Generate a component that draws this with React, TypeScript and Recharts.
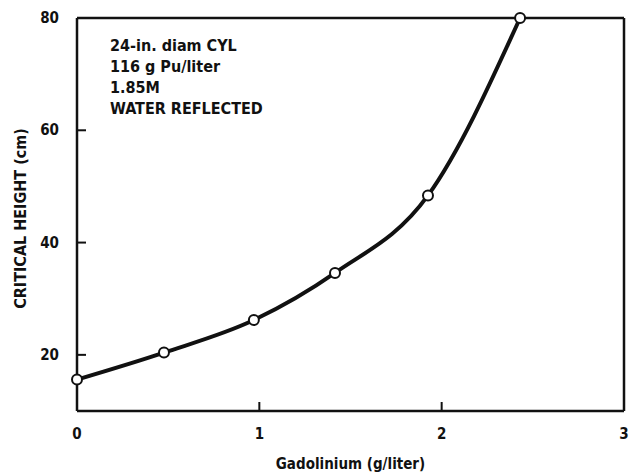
import React from "react";
import {
  LineChart,
  Line,
  XAxis,
  YAxis,
  ReferenceLine,
} from "recharts";

const gadolinium = [0, 0.477, 0.97, 1.415, 1.925, 2.43];
const criticalHeight = [15.6, 20.4, 26.2, 34.6, 48.4, 80];
const xTicks = [0, 1, 2, 3];
const yTicks = [20, 40, 60, 80];
const notes = ["24-in. diam CYL", "116 g Pu/liter", "1.85M", "WATER REFLECTED"];

const data = gadolinium.map((g, i) => ({ g, h: criticalHeight[i] }));

const W = 630;
const H = 473;
const Y_AXIS_W = 77;
const X_AXIS_H = 62;
const PLOT_LEFT = Y_AXIS_W;
const PLOT_BOTTOM = H - X_AXIS_H;

const FONT = "'DejaVu Sans Condensed', 'DejaVu Sans', sans-serif";
const INK = "#111";
const GAP = 18; // label distance from the axis line
const TICK = 9; // inward tick length

// smooth hermite curve through every point (parabolic slopes, no monotone clamp)
function smoothCurve(context: any) {
  let xs: number[] = [];
  let ys: number[] = [];
  return {
    areaStart() {},
    areaEnd() {},
    lineStart() {
      xs = [];
      ys = [];
    },
    point(x: number, y: number) {
      xs.push(+x);
      ys.push(+y);
    },
    lineEnd() {
      const n = xs.length;
      if (!n) return;
      context.moveTo(xs[0], ys[0]);
      if (n === 1) return;
      const h: number[] = [];
      const s: number[] = [];
      for (let i = 0; i < n - 1; i++) {
        h.push(xs[i + 1] - xs[i]);
        s.push((ys[i + 1] - ys[i]) / (xs[i + 1] - xs[i]));
      }
      const m: number[] = new Array(n);
      for (let i = 1; i < n - 1; i++) {
        m[i] = (s[i - 1] * h[i] + s[i] * h[i - 1]) / (h[i - 1] + h[i]);
      }
      m[0] = n > 2 ? (3 * s[0] - m[1]) / 2 : s[0];
      m[n - 1] = n > 2 ? (3 * s[n - 2] - m[n - 2]) / 2 : s[0];
      for (let i = 0; i < n - 1; i++) {
        const d = h[i] / 3;
        context.bezierCurveTo(
          xs[i] + d,
          ys[i] + m[i] * d,
          xs[i + 1] - d,
          ys[i + 1] - m[i + 1] * d,
          xs[i + 1],
          ys[i + 1]
        );
      }
    },
  };
}

// tick label plus a short tick pointing into the plot
function XTick(props: any) {
  const { x, payload } = props;
  return (
    <g>
      <line
        x1={x}
        x2={x}
        y1={PLOT_BOTTOM}
        y2={PLOT_BOTTOM - TICK}
        stroke={INK}
        strokeWidth={2}
      />
      <text
        x={x}
        y={PLOT_BOTTOM + GAP}
        dy={10}
        textAnchor="middle"
        fill={INK}
        fontFamily={FONT}
        fontWeight={700}
        fontSize={15}
      >
        {payload.value}
      </text>
    </g>
  );
}

function YTick(props: any) {
  const { y, payload } = props;
  return (
    <g>
      <line
        x1={PLOT_LEFT}
        x2={PLOT_LEFT + TICK}
        y1={y}
        y2={y}
        stroke={INK}
        strokeWidth={2}
      />
      <text
        x={PLOT_LEFT - GAP}
        y={y}
        dy={5}
        textAnchor="end"
        fill={INK}
        fontFamily={FONT}
        fontWeight={700}
        fontSize={15}
      >
        {payload.value}
      </text>
    </g>
  );
}

export default function App() {
  return (
    <div
      style={{
        position: "absolute",
        left: 0,
        top: 0,
        width: W,
        height: H,
        background: "#fff",
      }}
    >
      <LineChart
        width={W}
        height={H}
        data={data}
        margin={{ top: 18, right: 6, bottom: 0, left: 0 }}
      >
        <XAxis
          dataKey="g"
          type="number"
          domain={[0, 3]}
          ticks={xTicks}
          interval={0}
          height={X_AXIS_H}
          stroke={INK}
          strokeWidth={2.5}
          tickLine={false}
          tick={<XTick />}
          label={{
            value: "Gadolinium (g/liter)",
            position: "insideBottom",
            offset: 4,
            fill: INK,
            fontFamily: FONT,
            fontWeight: 700,
            fontSize: 15,
          }}
        />
        <YAxis
          dataKey="h"
          type="number"
          domain={[10, 80]}
          ticks={yTicks}
          interval={0}
          width={Y_AXIS_W}
          stroke={INK}
          strokeWidth={2.5}
          tickLine={false}
          tick={<YTick />}
          label={{
            content: (props: any) => {
              const vb = props.viewBox || {};
              const cx = (vb.x ?? 0) + 20;
              const cy = (vb.y ?? 0) + (vb.height ?? 0) / 2 + 4;
              return (
                <text
                  x={cx}
                  y={cy}
                  transform={`rotate(-90 ${cx} ${cy})`}
                  textAnchor="middle"
                  dominantBaseline="central"
                  fill={INK}
                  fontFamily={FONT}
                  fontWeight={700}
                  fontSize={16}
                >
                  CRITICAL HEIGHT (cm)
                </text>
              );
            },
          }}
        />
        <ReferenceLine y={80} stroke={INK} strokeWidth={2.5} />
        <ReferenceLine x={3} stroke={INK} strokeWidth={2.5} />
        <Line
          type={smoothCurve as any}
          dataKey="h"
          stroke={INK}
          strokeWidth={4}
          dot={{ r: 5, fill: "#fff", stroke: INK, strokeWidth: 2 }}
          isAnimationActive={false}
        />
      </LineChart>
      <div
        style={{
          position: "absolute",
          left: 110,
          top: 35,
          fontFamily: FONT,
          fontWeight: 700,
          fontSize: 16,
          lineHeight: "21px",
          color: INK,
        }}
      >
        {notes.map((n) => (
          <div key={n}>{n}</div>
        ))}
      </div>
    </div>
  );
}
